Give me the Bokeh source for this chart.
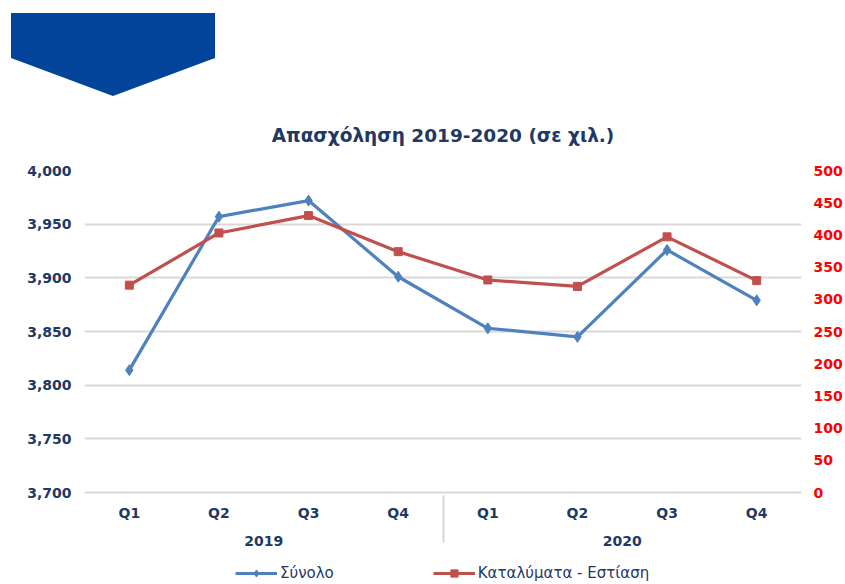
from bokeh.plotting import figure
from bokeh.layouts import column
from bokeh.models import (FactorRange, Range1d, LinearAxis, NumeralTickFormatter,
                          FixedTicker, Legend, LegendItem, Div)
from bokeh.embed import file_html
from bokeh.resources import INLINE

# ---- data ----
years = ["2019", "2020"]
quarters = ["Q1", "Q2", "Q3", "Q4"]
total = [3814, 3957, 3972, 3901, 3853, 3845, 3926, 3879]
accommodation = [322, 403, 430, 374, 330, 320, 397, 329]
left_ticks = [3700, 3750, 3800, 3850, 3900, 3950, 4000]
right_ticks = [0, 50, 100, 150, 200, 250, 300, 350, 400, 450, 500]
series_names = ["Σύνολο", "Καταλύματα - Εστίαση"]
title_text = "Απασχόληση 2019-2020 (σε χιλ.)"

factors = [(y, q) for y in years for q in quarters]

# ---- styles ----
NAVY = "#1F3864"
BLUE = "#4F81BD"
RED = "#C0504D"
GRID = "#D9D9D9"
BANNER = "#02449A"
FONT = "DejaVu Sans"
W = 845
TOP_H, MAIN_H, LEG_H = 96, 464, 24
BORDER_L, BORDER_R = 84, 42

# ---- top decorative banner (pennant shape) ----
banner = Div(
    text=(f'<div style="margin:13px 0 0 11px;width:204px;height:83px;background:{BANNER};'
          'clip-path:polygon(0 0,100% 0,100% 45px,50% 100%,0 45px);"></div>'),
    width=W, height=TOP_H, margin=0)

# ---- main chart ----
p = figure(width=W, height=MAIN_H, output_backend="svg", toolbar_location=None,
           x_range=FactorRange(*factors, range_padding=0, group_padding=0, factor_padding=0),
           y_range=Range1d(left_ticks[0], left_ticks[-1]),
           min_border_left=BORDER_L, min_border_right=BORDER_R,
           min_border_top=74, min_border_bottom=68)
p.outline_line_color = None
p.background_fill_color = "white"
p.border_fill_color = "white"

p.title.text = title_text
p.title.align = "center"
p.title.text_font = FONT
p.title.text_font_size = "18.5px"
p.title.text_font_style = "bold"
p.title.text_color = NAVY
p.title.standoff = 50

p.extra_y_ranges = {"r": Range1d(right_ticks[0], right_ticks[-1])}

ya = p.yaxis[0]
ya.ticker = FixedTicker(ticks=left_ticks)
ya.formatter = NumeralTickFormatter(format="0,0")
ya.axis_line_color = None
ya.major_tick_line_color = None
ya.minor_tick_line_color = None
ya.major_tick_out = 0
ya.major_tick_in = 0
ya.minor_tick_out = 0
ya.major_label_text_color = NAVY
ya.major_label_text_font = FONT
ya.major_label_text_font_size = "14px"
ya.major_label_text_font_style = "bold"
ya.major_label_standoff = 13

ra = LinearAxis(y_range_name="r", ticker=FixedTicker(ticks=right_ticks))
ra.axis_line_color = None
ra.major_tick_line_color = None
ra.minor_tick_line_color = None
ra.major_tick_out = 0
ra.major_tick_in = 0
ra.minor_tick_out = 0
ra.major_label_text_color = "#FF0000"
ra.major_label_text_font = FONT
ra.major_label_text_font_size = "14px"
ra.major_label_text_font_style = "bold"
ra.major_label_standoff = 12
p.add_layout(ra, "right")

xa = p.xaxis[0]
xa.axis_line_color = GRID
xa.axis_line_width = 2
xa.major_tick_line_color = None
xa.minor_tick_line_color = None
xa.major_tick_out = 0
xa.major_tick_in = 0
xa.major_label_text_color = NAVY
xa.major_label_text_font = FONT
xa.major_label_text_font_size = "14px"
xa.major_label_text_font_style = "bold"
xa.group_text_color = NAVY
xa.group_text_font = FONT
xa.group_text_font_size = "14px"
xa.group_text_font_style = "bold"
xa.separator_line_color = GRID
xa.separator_line_width = 2
xa.major_label_standoff = 12

p.xgrid.grid_line_color = None
p.ygrid.ticker = FixedTicker(ticks=left_ticks)
p.ygrid.grid_line_color = GRID
p.ygrid.grid_line_width = 2

p.line(factors, total, line_color=BLUE, line_width=3.2)
p.scatter(factors, total, marker="diamond", size=11, fill_color=BLUE, line_color=BLUE)
p.line(factors, accommodation, line_color=RED, line_width=3.2, y_range_name="r")
p.scatter(factors, accommodation, marker="square", size=8, fill_color=RED, line_color=RED,
          y_range_name="r")

# ---- legend strip (series drawn out of its visible range; only the legend shows) ----
lf = figure(width=W, height=LEG_H, output_backend="svg", toolbar_location=None,
            x_range=FactorRange(*factors, range_padding=0, group_padding=0, factor_padding=0),
            y_range=Range1d(-2, -1),
            min_border_left=BORDER_L, min_border_right=BORDER_R,
            min_border_top=0, min_border_bottom=0)
lf.axis.visible = False
lf.grid.visible = False
lf.outline_line_color = None
lf.background_fill_color = "white"
lf.border_fill_color = "white"
g1 = lf.line(factors, total, line_color=BLUE, line_width=3.2)
m1 = lf.scatter(factors, total, marker="diamond", size=11, fill_color=BLUE, line_color=BLUE)
g2 = lf.line(factors, accommodation, line_color=RED, line_width=3.2)
m2 = lf.scatter(factors, accommodation, marker="square", size=8, fill_color=RED, line_color=RED)
legend = Legend(items=[LegendItem(label=series_names[0], renderers=[g1, m1]),
                       LegendItem(label=series_names[1], renderers=[g2, m2])],
                orientation="horizontal", location=(235 - BORDER_L, 2),
                border_line_color=None, background_fill_alpha=0,
                label_text_font=FONT, label_text_font_size="15px", label_text_color=NAVY,
                glyph_width=42, glyph_height=18, label_standoff=3, spacing=99,
                padding=0, margin=0)
lf.add_layout(legend)

layout = column(banner, p, lf, spacing=0)
open("out.html", "w").write(file_html(layout, INLINE))
